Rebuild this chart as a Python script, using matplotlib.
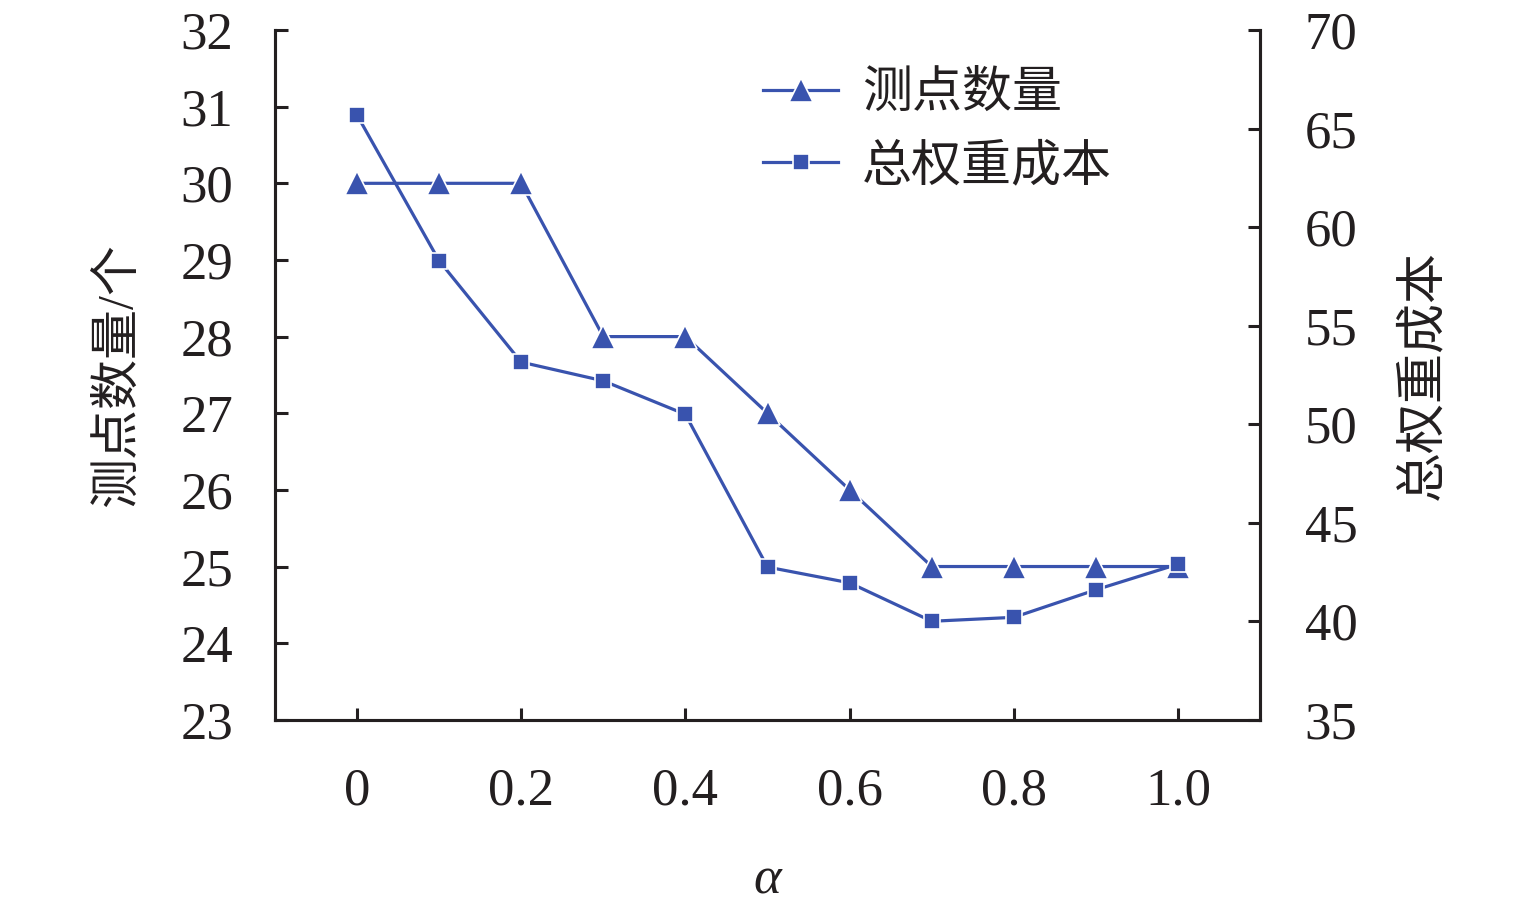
import matplotlib
matplotlib.use('Agg')
import matplotlib.pyplot as plt

plt.rcParams['font.family'] = ['Liberation Serif', 'Noto Sans CJK SC']

# data
alpha = [0, 0.1, 0.2, 0.3, 0.4, 0.5, 0.6, 0.7, 0.8, 0.9, 1.0]
n_points = [30, 30, 30, 28, 28, 27, 26, 25, 25, 25, 25]
total_cost = [65.7, 58.3, 53.15, 52.2, 50.5, 42.75, 41.95, 40.0, 40.2, 41.6, 42.9]

xticks = [0, 0.2, 0.4, 0.6, 0.8, 1.0]
xticklabels = ['0', '0.2', '0.4', '0.6', '0.8', '1.0']
left_ticks = list(range(23, 33))
right_ticks = list(range(35, 71, 5))

BLUE = '#3953ae'
INK = '#231f20'

fig = plt.figure(figsize=(15.35, 9.1), dpi=100)
ax = fig.add_axes([0.179, 0.209, 0.642, 0.758])
ax2 = ax.twinx()

l1, = ax.plot(alpha, n_points, color=BLUE, lw=2.3, marker='^', ms=17,
              mec='white', mew=1.2, label='测点数量')
l2, = ax2.plot(alpha, total_cost, color=BLUE, lw=2.3, marker='s', ms=12,
               mec='white', mew=1.2, label='总权重成本')

ax.set_xlim(-0.1, 1.1)
ax.set_ylim(23, 32)
ax2.set_ylim(35, 70)
ax.set_xticks(xticks)
ax.set_xticklabels(xticklabels)
ax.set_yticks(left_ticks)
ax2.set_yticks(right_ticks)

for a in (ax, ax2):
    a.spines['top'].set_visible(False)
    for s in ('left', 'right', 'bottom'):
        a.spines[s].set_linewidth(2.2)
        a.spines[s].set_color(INK)
    a.tick_params(direction='in', length=9, width=2.2, color=INK,
                  labelsize=38, labelcolor=INK)
ax.tick_params(axis='y', pad=30)
ax.tick_params(axis='x', pad=34)
ax2.tick_params(axis='y', pad=32)

ax.set_xlabel('α', fontsize=38, style='italic', color=INK, labelpad=30)
ax.set_ylabel('测点数量/个', fontsize=36, color=INK, labelpad=28)
ax2.set_ylabel('总权重成本', fontsize=36, color=INK, labelpad=31)

ax2.legend(handles=[l1, l2], loc='upper left', bbox_to_anchor=(0.45, 1.005),
           frameon=False, fontsize=36, handlelength=1.5, handletextpad=0.48,
           labelspacing=0.52, labelcolor=INK)

fig.savefig('out.png', dpi=100)
